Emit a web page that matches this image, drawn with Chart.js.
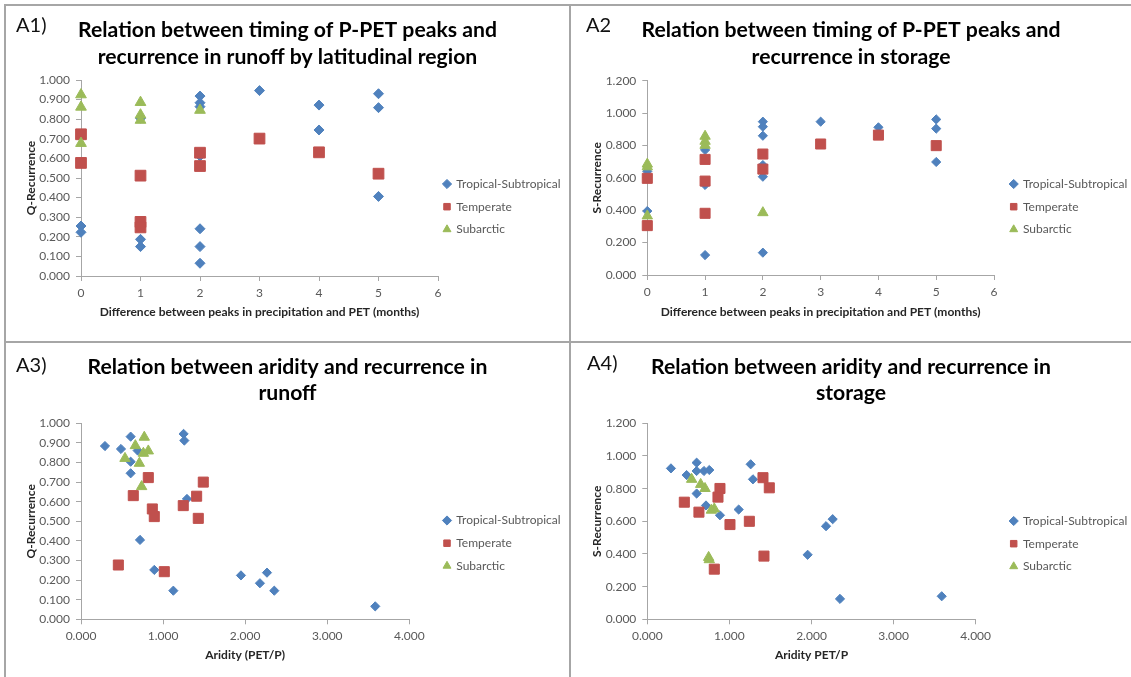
<!DOCTYPE html>
<html>
<head>
<meta charset="utf-8">
<title>Recurrence vs timing and aridity</title>
<script src="https://cdn.jsdelivr.net/npm/chart.js@4.4.0/dist/chart.umd.min.js"></script>
<style>
  html, body { margin: 0; padding: 0; background: #fff; }
  body { width: 1131px; height: 677px; position: relative; overflow: hidden; font-family: Lato, sans-serif; }
  canvas { position: absolute; }
  .rule { position: absolute; background: #a6a6a6; }
  .tag { position: absolute; font-size: 20px; line-height: 24px; color: #111; }
</style>
</head>
<body>
<canvas id="c1" style="left:6px;top:6px" width="563" height="335"></canvas>
<canvas id="c2" style="left:571px;top:6px" width="560" height="335"></canvas>
<canvas id="c3" style="left:6px;top:343px" width="563" height="334"></canvas>
<canvas id="c4" style="left:571px;top:343px" width="560" height="334"></canvas>

<div class="rule" style="left:4px;top:4px;width:2px;height:673px"></div>
<div class="rule" style="left:4px;top:4px;width:1127px;height:2px"></div>
<div class="rule" style="left:569px;top:4px;width:2px;height:673px"></div>
<div class="rule" style="left:4px;top:341px;width:1127px;height:2px"></div>

<div class="tag" style="left:16px;top:12px">A1)</div>
<div class="tag" style="left:586px;top:12px">A2</div>
<div class="tag" style="left:16px;top:352px">A3)</div>
<div class="tag" style="left:587px;top:350px">A4)</div>

<script>
// ---- data ----
const seriesNames = ['Tropical-Subtropical', 'Temperate', 'Subarctic'];

// tick values and labels
const monthTicks = [0, 1, 2, 3, 4, 5, 6];
const monthTickLabels = ['0', '1', '2', '3', '4', '5', '6'];
const aridityTicks = [0, 1, 2, 3, 4];
const aridityTickLabels = ['0.000', '1.000', '2.000', '3.000', '4.000'];
const qTicks = [0, 0.1, 0.2, 0.3, 0.4, 0.5, 0.6, 0.7, 0.8, 0.9, 1.0];
const qTickLabels = ['0.000', '0.100', '0.200', '0.300', '0.400', '0.500', '0.600', '0.700', '0.800', '0.900', '1.000'];
const sTicks = [0, 0.2, 0.4, 0.6, 0.8, 1.0, 1.2];
const sTickLabels = ['0.000', '0.200', '0.400', '0.600', '0.800', '1.000', '1.200'];

// A1: months between P and PET peaks vs Q-recurrence
const timingQTropical = [[0, 0.255], [0, 0.223], [1, 0.187], [1, 0.150], [1, 0.805], [2, 0.918], [2, 0.884], [2, 0.864],
  [2, 0.612], [2, 0.241], [2, 0.150], [2, 0.065], [3, 0.946], [4, 0.872], [4, 0.745], [5, 0.930], [5, 0.859], [5, 0.406]];
const timingQTemperate = [[0, 0.723], [0, 0.577], [1, 0.512], [1, 0.276], [1, 0.248], [2, 0.629], [2, 0.561], [3, 0.701],
  [4, 0.631], [5, 0.522]];
const timingQSubarctic = [[0, 0.925], [0, 0.862], [0, 0.677], [1, 0.886], [1, 0.822], [1, 0.795], [2, 0.846]];

// A2: months between P and PET peaks vs S-recurrence
const timingSTropical = [[0, 0.395], [0, 0.640], [1, 0.123], [1, 0.772], [1, 0.556], [2, 0.947], [2, 0.916], [2, 0.860],
  [2, 0.679], [2, 0.607], [2, 0.138], [3, 0.947], [4, 0.912], [5, 0.961], [5, 0.904], [5, 0.698]];
const timingSTemperate = [[0, 0.597], [0, 0.305], [1, 0.714], [1, 0.580], [1, 0.381], [2, 0.747], [2, 0.654], [3, 0.809],
  [4, 0.864], [5, 0.799]];
const timingSSubarctic = [[0, 0.685], [0, 0.668], [0, 0.365], [1, 0.857], [1, 0.826], [1, 0.801], [2, 0.385]];

// A3: aridity vs Q-recurrence
const aridityQTropical = [[0.292, 0.884], [0.487, 0.869], [0.605, 0.932], [0.690, 0.861], [0.605, 0.804], [0.605, 0.745],
  [1.250, 0.946], [1.259, 0.912], [1.291, 0.614], [0.719, 0.405], [0.893, 0.252], [1.125, 0.146], [1.949, 0.224],
  [2.180, 0.184], [2.266, 0.238], [2.355, 0.146], [3.585, 0.066]];
const aridityQTemperate = [[0.820, 0.723], [0.637, 0.631], [0.869, 0.563], [0.893, 0.524], [1.246, 0.580], [1.409, 0.628],
  [1.490, 0.700], [1.429, 0.515], [0.455, 0.277], [1.015, 0.243]];
const aridityQSubarctic = [[0.771, 0.929], [0.662, 0.886], [0.536, 0.821], [0.711, 0.796], [0.760, 0.847], [0.820, 0.859],
  [0.739, 0.677]];

// A4: aridity vs S-recurrence
const ariditySTropical = [[0.288, 0.924], [0.479, 0.883], [0.601, 0.959], [0.601, 0.908], [0.690, 0.908], [0.755, 0.914],
  [0.601, 0.770], [0.715, 0.697], [0.885, 0.637], [1.113, 0.672], [1.259, 0.949], [1.287, 0.857], [1.953, 0.395],
  [2.177, 0.570], [2.258, 0.613], [2.347, 0.125], [3.586, 0.141]];
const ariditySTemperate = [[0.451, 0.717], [0.629, 0.656], [0.885, 0.801], [0.861, 0.748], [1.007, 0.580], [1.243, 0.600],
  [1.409, 0.867], [1.486, 0.805], [1.421, 0.387], [0.816, 0.307]];
const ariditySSubarctic = [[0.540, 0.857], [0.650, 0.826], [0.703, 0.801], [0.816, 0.676], [0.780, 0.668], [0.747, 0.379],
  [0.755, 0.365]];

// ---- styling ----
const colors = ['#4F81BD', '#C0504D', '#9BBB59'];
const shapes = ['rectRot', 'rect', 'triangle'];
const axisGray = '#a6a6a6';
const tickGray = '#595959';
const axisTitleSize = 12;

Chart.defaults.font.family = 'Lato, sans-serif';
Chart.defaults.animation = false;

// puts the legend where Excel had it instead of hugging the plot
const legendPlacer = {
  id: 'legendPlacer',
  afterLayout(chart, args, opts) {
    const lg = chart.legend;
    const lab = lg.options.labels;
    lg.left = opts.x - lab.boxWidth / 2 - lab.padding;
    lg.width = 140;
    lg.right = lg.left + lg.width;
    lg.top = opts.y - lab.font.size / 2 - lab.padding;
    lg.height = 200;
    lg.bottom = lg.top + lg.height;
  }
};

function drawPanel(p) {
  const canvas = document.getElementById(p.id);
  const W = canvas.width, H = canvas.height;
  const a = p.area;
  const axisTitleLh = axisTitleSize * 1.2;
  const xScaleH = p.xTitleY + axisTitleLh / 2 - a.bottom;

  const datasets = p.series.map((pts, i) => ({
    label: seriesNames[i],
    data: pts,
    pointStyle: shapes[i],
    pointRadius: p.sizes[i],
    pointHoverRadius: p.sizes[i],
    backgroundColor: colors[i],
    borderColor: colors[i],
    borderWidth: 1,
    showLine: false,
    clip: false,
    order: 3 - i
  }));

  new Chart(canvas, {
    type: 'scatter',
    data: { datasets: datasets },
    plugins: [legendPlacer],
    options: {
      responsive: false,
      events: [],
      layout: { padding: { left: 0, top: 0, right: 0, bottom: H - a.bottom - xScaleH } },
      scales: {
        x: {
          type: 'linear',
          min: p.xt[0],
          max: p.xt[p.xt.length - 1],
          afterBuildTicks: s => { s.ticks = p.xt.map(v => ({ value: v })); },
          afterFit: s => { s.height = xScaleH; s.paddingRight = W - a.right; },
          ticks: { callback: (v, i) => p.xl[i], color: tickGray, font: { size: 12 }, padding: 4.5, maxRotation: 0, autoSkip: false },
          grid: { drawOnChartArea: false, tickLength: 5, color: axisGray },
          border: { color: axisGray },
          title: { display: true, text: p.xTitle, color: '#262626', font: { size: axisTitleSize, weight: 'bold' }, padding: 0 }
        },
        y: {
          type: 'linear',
          min: p.yt[0],
          max: p.yt[p.yt.length - 1],
          afterBuildTicks: s => { s.ticks = p.yt.map(v => ({ value: v })); },
          afterFit: s => { s.width = a.left; },
          ticks: { callback: (v, i) => p.yl[i], color: tickGray, font: { size: 12 }, padding: 6, autoSkip: false },
          grid: { drawOnChartArea: false, tickLength: 5, color: axisGray },
          border: { color: axisGray },
          title: { display: true, text: p.yTitle, color: '#262626', font: { size: axisTitleSize, weight: 'bold' },
                   padding: { top: p.yTitleX - axisTitleLh / 2, bottom: 0 } }
        }
      },
      plugins: {
        tooltip: { enabled: false },
        title: {
          display: true,
          text: p.title,
          color: '#000',
          font: { size: 21.2, weight: 'bold', lineHeight: p.lh / 21.2 },
          padding: { top: p.line1 - p.lh / 2, bottom: a.top - (p.line1 - p.lh / 2) - 2 * p.lh }
        },
        legend: {
          position: 'right',
          align: 'start',
          maxWidth: 100,
          labels: {
            usePointStyle: true,
            boxWidth: 6.5,
            boxHeight: 6.5,
            padding: 10.7,
            color: tickGray,
            font: { size: 12 },
            sort: (x, y) => x.datasetIndex - y.datasetIndex
          }
        },
        legendPlacer: p.legend
      }
    }
  });
}

const monthsTitle = 'Difference between peaks in precipitation and PET (months)';

drawPanel({
  id: 'c1',
  title: ['Relation between timing of P-PET peaks and', 'recurrence in runoff by latitudinal region'],
  line1: 24, lh: 27,
  area: { left: 75, top: 74, right: 432, bottom: 270 },
  xTitleY: 305.7, yTitleX: 25,
  legend: { x: 441, y: 178 },
  xt: monthTicks, xl: monthTickLabels, yt: qTicks, yl: qTickLabels,
  xTitle: monthsTitle, yTitle: 'Q-Recurrence',
  sizes: [5, 7.6, 6.2],
  series: [timingQTropical, timingQTemperate, timingQSubarctic]
});

drawPanel({
  id: 'c2',
  title: ['Relation between timing of P-PET peaks and', 'recurrence in storage'],
  line1: 24, lh: 27,
  area: { left: 76.3, top: 74.7, right: 423, bottom: 269 },
  xTitleY: 305.7, yTitleX: 25.8,
  legend: { x: 442.7, y: 178 },
  xt: monthTicks, xl: monthTickLabels, yt: sTicks, yl: sTickLabels,
  xTitle: monthsTitle, yTitle: 'S-Recurrence',
  sizes: [4.6, 7.1, 6],
  series: [timingSTropical, timingSTemperate, timingSSubarctic]
});

drawPanel({
  id: 'c3',
  title: ['Relation between aridity and recurrence in', 'runoff'],
  line1: 24, lh: 26,
  area: { left: 75, top: 80.3, right: 403.3, bottom: 276.3 },
  xTitleY: 312, yTitleX: 25,
  legend: { x: 441, y: 177.5 },
  xt: aridityTicks, xl: aridityTickLabels, yt: qTicks, yl: qTickLabels,
  xTitle: 'Aridity (PET/P)', yTitle: 'Q-Recurrence',
  sizes: [4.6, 7.1, 6],
  series: [aridityQTropical, aridityQTemperate, aridityQSubarctic]
});

drawPanel({
  id: 'c4',
  title: ['Relation between aridity and recurrence in', 'storage'],
  line1: 24, lh: 26,
  area: { left: 76.3, top: 80.3, right: 404.7, bottom: 276.3 },
  xTitleY: 312, yTitleX: 25.8,
  legend: { x: 442.7, y: 178 },
  xt: aridityTicks, xl: aridityTickLabels, yt: sTicks, yl: sTickLabels,
  xTitle: 'Aridity PET/P', yTitle: 'S-Recurrence',
  sizes: [4.6, 7.1, 6],
  series: [ariditySTropical, ariditySTemperate, ariditySSubarctic]
});
</script>
</body>
</html>
